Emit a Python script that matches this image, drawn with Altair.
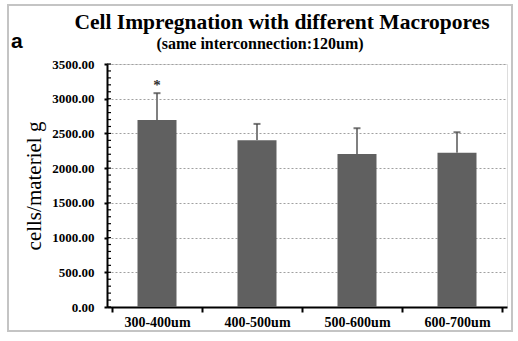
import altair as alt
import pandas as pd

categories = ["300-400um", "400-500um", "500-600um", "600-700um"]
means = [2695, 2400, 2205, 2222]
errors = [385, 237, 370, 295]
signif = ["*", "", "", ""]
y_ticks = [0, 500, 1000, 1500, 2000, 2500, 3000, 3500]
minor_ticks = list(range(0, 3501, 100))
title_lines = ["Cell Impregnation with different Macropores", "(same interconnection:120um)"]

df = pd.DataFrame({"cat": categories, "mean": means, "err": errors, "sig": signif})
df["top"] = df["mean"] + df["err"]
minor_df = pd.DataFrame({"v": minor_ticks})

SERIF = "Liberation Serif"

y_scale = alt.Scale(domain=[0, 3500], nice=False)
x_axis = alt.Axis(labelAngle=0, labelFont=SERIF, labelFontWeight="bold",
                  labelFontSize=14, labelColor="black", labelPadding=3,
                  tickBand="extent", tickSize=5, tickColor="black", tickWidth=2,
                  domainColor="black", domainWidth=2)
y_axis = alt.Axis(values=y_ticks, format=".2f", labelFont=SERIF,
                  labelFontWeight="bold", labelFontSize=13, labelColor="black",
                  labelPadding=10, labelOverlap=False,
                  tickSize=3, tickColor="black", tickWidth=2,
                  domainColor="black", domainWidth=2,
                  grid=True, gridColor="#a0a0a0", gridDash=[2, 2], gridWidth=1,
                  titleFont=SERIF, titleFontWeight="normal", titleFontSize=21,
                  titleColor="black", titlePadding=7)
Y_TITLE = "cells/materiel g"


def xenc():
    return alt.X("cat:N", sort=categories, title=None,
                 scale=alt.Scale(domain=categories), axis=x_axis)


def yenc(field):
    return alt.Y(field, scale=y_scale, title=Y_TITLE, axis=y_axis)


bars = alt.Chart(df).mark_bar(color="#606060", size=39).encode(
    x=xenc(), y=yenc("mean:Q"))

stems = alt.Chart(df).mark_rule(color="#808080", strokeWidth=2).encode(
    x=xenc(), y=yenc("mean:Q"), y2="top:Q")

caps = alt.Chart(df).mark_tick(color="#404040", thickness=2, size=7).encode(
    x=xenc(), y=yenc("top:Q"))

stars = alt.Chart(df).mark_text(font=SERIF, fontSize=15, fontWeight="bold",
                                color="#303030", dy=-8).encode(
    x=xenc(), y=yenc("top:Q"), text="sig:N")

minor = alt.Chart(minor_df).mark_rule(color="black", strokeWidth=1.2).encode(
    y=yenc("v:Q"), x=alt.value(0), x2=alt.value(4))

label_a = alt.Chart(pd.DataFrame({"t": ["a"]})).mark_text(
    font="Liberation Sans", fontSize=21, fontWeight="bold", color="black", align="left"
).encode(x=alt.value(-96), y=alt.value(-22), text="t:N")

title1 = alt.Chart(pd.DataFrame({"t": [title_lines[0]]})).mark_text(
    font=SERIF, fontSize=21.5, fontWeight="bold", color="black",
    align="center", baseline="alphabetic"
).encode(x=alt.value(175), y=alt.value(-35), text="t:N")

title2 = alt.Chart(pd.DataFrame({"t": [title_lines[1]]})).mark_text(
    font=SERIF, fontSize=16, fontWeight="bold", color="black",
    align="center", baseline="alphabetic"
).encode(x=alt.value(153), y=alt.value(-15), text="t:N")

frame = alt.Chart(pd.DataFrame({"t": [0]})).mark_rect(
    fill=None, stroke="#c4c4c4", strokeWidth=2
).encode(x=alt.value(-99), x2=alt.value(405), y=alt.value(-59), y2=alt.value(267))

chart = alt.layer(frame, bars, stems, caps, stars, minor, label_a, title1, title2).properties(
    width=400, height=243,
    autosize=alt.AutoSizeParams(type="none"),
    padding={"left": 107, "top": 64, "right": 11, "bottom": 34},
).configure_view(stroke=None).configure(background="white")

chart.save("out.html", embed_options={"renderer": "svg", "actions": False})
